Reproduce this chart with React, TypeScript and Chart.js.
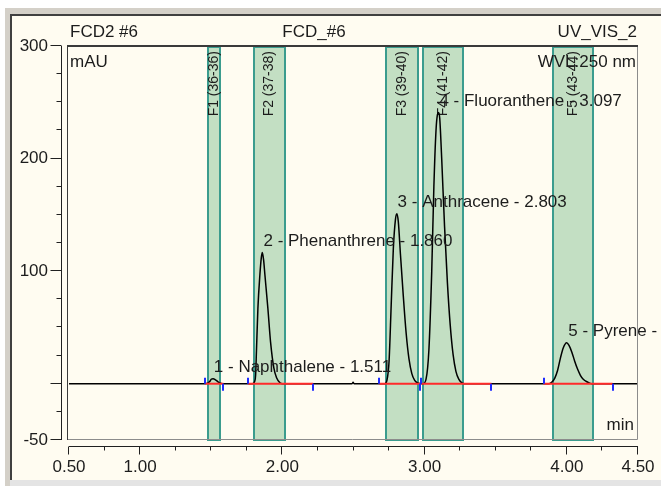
import React, { useEffect, useRef } from 'react';
import { Chart, registerables } from 'chart.js';

Chart.register(...registerables);

// ---- data ----
const traceTime = [
  0.5, 1.46, 1.49, 1.5, 1.513, 1.53, 1.55, 1.57, 1.59,
  1.79, 1.805, 1.812, 1.818, 1.828, 1.842, 1.852, 1.859, 1.868, 1.877, 1.898, 1.917, 1.94, 1.96, 1.985, 2.0,
  2.49, 2.497, 2.505,
  2.72, 2.735, 2.75, 2.765, 2.78, 2.795, 2.805, 2.815, 2.83, 2.85, 2.87, 2.89, 2.91, 2.93, 2.955, 2.98,
  2.99, 3.01, 3.03, 3.05, 3.065, 3.08, 3.09, 3.098, 3.106, 3.12, 3.14, 3.16, 3.18, 3.2, 3.22, 3.24, 3.26, 3.28,
  3.875, 3.895, 3.915, 3.935, 3.955, 3.975, 3.998, 4.015, 4.035, 4.055, 4.075, 4.095, 4.115, 4.145, 4.175,
  4.5,
];
const traceSignal = [
  0, 0, 2, 4, 4.5, 3.5, 1.5, 0.3, 0,
  0, 2, 8, 30, 67, 97, 112, 116.5, 110, 97, 67, 37, 14, 5, 0.5, 0,
  0, 1.2, 0,
  0, 3, 20, 70, 120, 146, 151, 144, 115, 78, 45, 22, 9, 3, 0.5, 0,
  0, 4, 30, 100, 175, 225, 239, 241, 236, 200, 140, 90, 52, 26, 11, 4, 1, 0,
  0, 1.5, 5, 12, 23, 32, 36.5, 34, 28, 20, 13, 7.5, 4, 1.5, 0,
  0,
];

const peakNames = ['Naphthalene', 'Phenanthrene', 'Anthracene', 'Fluoranthene', 'Pyrene'];
const peakTimes = [1.511, 1.86, 2.803, 3.097, 4.003];
const peakApex = [4.5, 116.5, 151, 241, 36.5];

const fracLabels = ['F1 (36-36)', 'F2 (37-38)', 'F3 (39-40)', 'F4 (41-42)', 'F5 (43-44)'];
const fracStart = [1.478, 1.802, 2.731, 2.991, 3.899];
const fracEnd = [1.563, 2.02, 2.956, 3.273, 4.187];

const integStart = [1.457, 1.76, 2.682, 2.978, 3.836];
const integEnd = [1.586, 2.217, 2.971, 3.47, 4.321];

const xLabelTicks = [0.5, 1, 2, 3, 4, 4.5];
const yLabelTicks = [300, 200, 100, -50];
const yMajorTicks = [300, 200, 100, 0, -50];

const FONT = '"Liberation Sans", Arial, sans-serif';
const CREAM = '#fffcf1';
const TXT = '#1c1c1c';

const decorPlugin = {
  id: 'decor',
  beforeDraw(chart: any) {
    const ctx = chart.ctx;
    const W = chart.width;
    const H = chart.height;
    ctx.save();
    ctx.fillStyle = '#ffffff';
    ctx.fillRect(0, 0, W, H);
    ctx.fillStyle = '#d4d0c8';
    ctx.fillRect(5, 8, W - 5, H - 8);
    ctx.fillStyle = '#404040';
    ctx.fillRect(10, 14, W - 10, 466);
    ctx.fillStyle = CREAM;
    ctx.fillRect(12, 16, W - 12, 464);
    ctx.fillStyle = '#e4e4e4';
    ctx.fillRect(10, 480, W - 10, H - 480);
    ctx.restore();
  },
  beforeDatasetsDraw(chart: any) {
    const ctx = chart.ctx;
    const xs = chart.scales.x;
    const ys = chart.scales.y;
    const top = ys.getPixelForValue(300);
    const bottom = ys.getPixelForValue(-50);
    ctx.save();
    for (let i = 0; i < fracLabels.length; i++) {
      const x1 = Math.round(xs.getPixelForValue(fracStart[i]));
      const x2 = Math.round(xs.getPixelForValue(fracEnd[i]));
      ctx.fillStyle = '#c3dfc3';
      ctx.fillRect(x1, top, x2 - x1, bottom - top);
      ctx.strokeStyle = '#3b9c8e';
      ctx.lineWidth = 2;
      ctx.strokeRect(x1, top + 1, x2 - x1, bottom - top - 1);
      ctx.save();
      ctx.translate((x1 + x2) / 2, top + 5);
      ctx.rotate(-Math.PI / 2);
      ctx.fillStyle = TXT;
      ctx.font = `14px ${FONT}`;
      ctx.textAlign = 'right';
      ctx.textBaseline = 'middle';
      ctx.fillText(fracLabels[i], 0, 0);
      ctx.restore();
    }
    ctx.restore();
  },
  afterDatasetsDraw(chart: any) {
    const ctx = chart.ctx;
    const xs = chart.scales.x;
    const ys = chart.scales.y;
    const y0 = ys.getPixelForValue(0);
    ctx.save();
    // integration markers
    ctx.strokeStyle = '#1f2cff';
    ctx.lineWidth = 2;
    for (let i = 0; i < integStart.length; i++) {
      const xa = Math.round(xs.getPixelForValue(integStart[i]));
      ctx.beginPath();
      ctx.moveTo(xa, y0 - 6);
      ctx.lineTo(xa, y0);
      ctx.stroke();
      const xb = Math.round(xs.getPixelForValue(integEnd[i]));
      ctx.beginPath();
      ctx.moveTo(xb, y0);
      ctx.lineTo(xb, y0 + 7);
      ctx.stroke();
    }
    // peak labels
    ctx.fillStyle = TXT;
    ctx.font = `17px ${FONT}`;
    ctx.textAlign = 'left';
    ctx.textBaseline = 'middle';
    for (let i = 0; i < peakNames.length; i++) {
      const px = xs.getPixelForValue(peakTimes[i]) + 1;
      const py = ys.getPixelForValue(peakApex[i]) - 11;
      ctx.fillText(`${i + 1} - ${peakNames[i]} - ${peakTimes[i].toFixed(3)}`, px, py);
    }
    // texts in/around plot
    const L = 67, R = 638, T = 46, B = 440;
    ctx.fillText('mAU', L + 3, 62);
    ctx.fillText('FCD2 #6', L + 3, 32);
    ctx.textAlign = 'center';
    ctx.fillText('FCD_#6', 314, 32);
    ctx.textAlign = 'right';
    ctx.fillText('UV_VIS_2', R - 1, 32);
    ctx.fillText('WVL:250 nm', R - 2, 62);
    ctx.fillText('min', R - 4, 425);

    // plot frame
    ctx.lineWidth = 1;
    ctx.strokeStyle = '#8c8c8c';
    ctx.beginPath();
    ctx.moveTo(R - 0.5, T);
    ctx.lineTo(R - 0.5, B - 0.5);
    ctx.lineTo(L, B - 0.5);
    ctx.stroke();
    ctx.strokeStyle = '#3a3a3a';
    ctx.lineWidth = 2;
    ctx.beginPath();
    ctx.moveTo(L, T);
    ctx.lineTo(R, T);
    ctx.stroke();
    ctx.lineWidth = 1;
    ctx.beginPath();
    ctx.moveTo(L + 0.5, T);
    ctx.lineTo(L + 0.5, B);
    ctx.stroke();

    // y axis
    ctx.strokeStyle = '#202020';
    const ax = 61.5;
    ctx.beginPath();
    ctx.moveTo(ax, ys.getPixelForValue(300));
    ctx.lineTo(ax, ys.getPixelForValue(-50));
    ctx.stroke();
    for (const t of ys.ticks) {
      const py = Math.round(ys.getPixelForValue(t.value)) - 0.5;
      const len = yMajorTicks.includes(t.value) ? 11 : 5;
      ctx.beginPath();
      ctx.moveTo(ax - len, py);
      ctx.lineTo(ax, py);
      ctx.stroke();
    }
    // x axis
    const ay = 446.5;
    ctx.beginPath();
    ctx.moveTo(xs.getPixelForValue(0.5), ay);
    ctx.lineTo(xs.getPixelForValue(4.5), ay);
    ctx.stroke();
    for (const t of xs.ticks) {
      const px = Math.round(xs.getPixelForValue(t.value)) - 0.5;
      const len = xLabelTicks.includes(t.value) ? 8 : 4;
      ctx.beginPath();
      ctx.moveTo(px, ay);
      ctx.lineTo(px, ay + len);
      ctx.stroke();
    }
    ctx.restore();
  },
};

export default function App() {
  const ref = useRef<HTMLCanvasElement | null>(null);

  useEffect(() => {
    if (!ref.current) return;
    const trace = traceTime.map((t, i) => ({ x: t, y: traceSignal[i] }));
    const redSets = integStart.map((s, i) => ({
      data: [
        { x: s, y: 0 },
        { x: integEnd[i], y: 0 },
      ],
      borderColor: '#ff2a2a',
      borderWidth: 2,
      pointRadius: 0,
      order: 0,
    }));
    const chart = new Chart(ref.current, {
      type: 'line',
      data: {
        datasets: [
          ...redSets,
          {
            data: trace,
            borderColor: '#000000',
            borderWidth: 1.5,
            pointRadius: 0,
            cubicInterpolationMode: 'monotone',
            order: 1,
          },
        ],
      } as any,
      options: {
        responsive: false,
        animation: false,
        parsing: false as any,
        layout: { padding: { top: 46, right: 23, left: 0, bottom: 0 } },
        plugins: {
          legend: { display: false },
          tooltip: { enabled: false },
        },
        scales: {
          x: {
            type: 'linear',
            min: 0.5,
            max: 4.5,
            afterFit: (s: any) => {
              s.height = 46;
              s.paddingLeft = 0;
              s.paddingRight = 0;
            },
            grid: { display: false, drawTicks: false },
            border: { display: false },
            ticks: {
              stepSize: 0.25,
              autoSkip: false,
              maxTicksLimit: 100,
              maxRotation: 0,
              minRotation: 0,
              padding: 17,
              color: TXT,
              font: { family: FONT, size: 17 },
              callback: (v: any) => (xLabelTicks.includes(Number(v)) ? Number(v).toFixed(2) : ''),
            },
          },
          y: {
            type: 'linear',
            min: -50,
            max: 300,
            afterFit: (s: any) => {
              s.width = 69;
              s.paddingTop = 0;
              s.paddingBottom = 0;
            },
            grid: { display: false, drawTicks: false },
            border: { display: false },
            ticks: {
              stepSize: 25,
              autoSkip: false,
              maxTicksLimit: 100,
              padding: 21,
              color: TXT,
              font: { family: FONT, size: 17 },
              callback: (v: any) => (yLabelTicks.includes(Number(v)) ? String(v) : ''),
            },
          },
        },
      } as any,
      plugins: [decorPlugin],
    });
    return () => chart.destroy();
  }, []);

  return (
    <div style={{ position: 'fixed', left: 0, top: 0, width: 661, height: 486 }}>
      <canvas ref={ref} width={661} height={486} style={{ display: 'block' }} />
    </div>
  );
}
